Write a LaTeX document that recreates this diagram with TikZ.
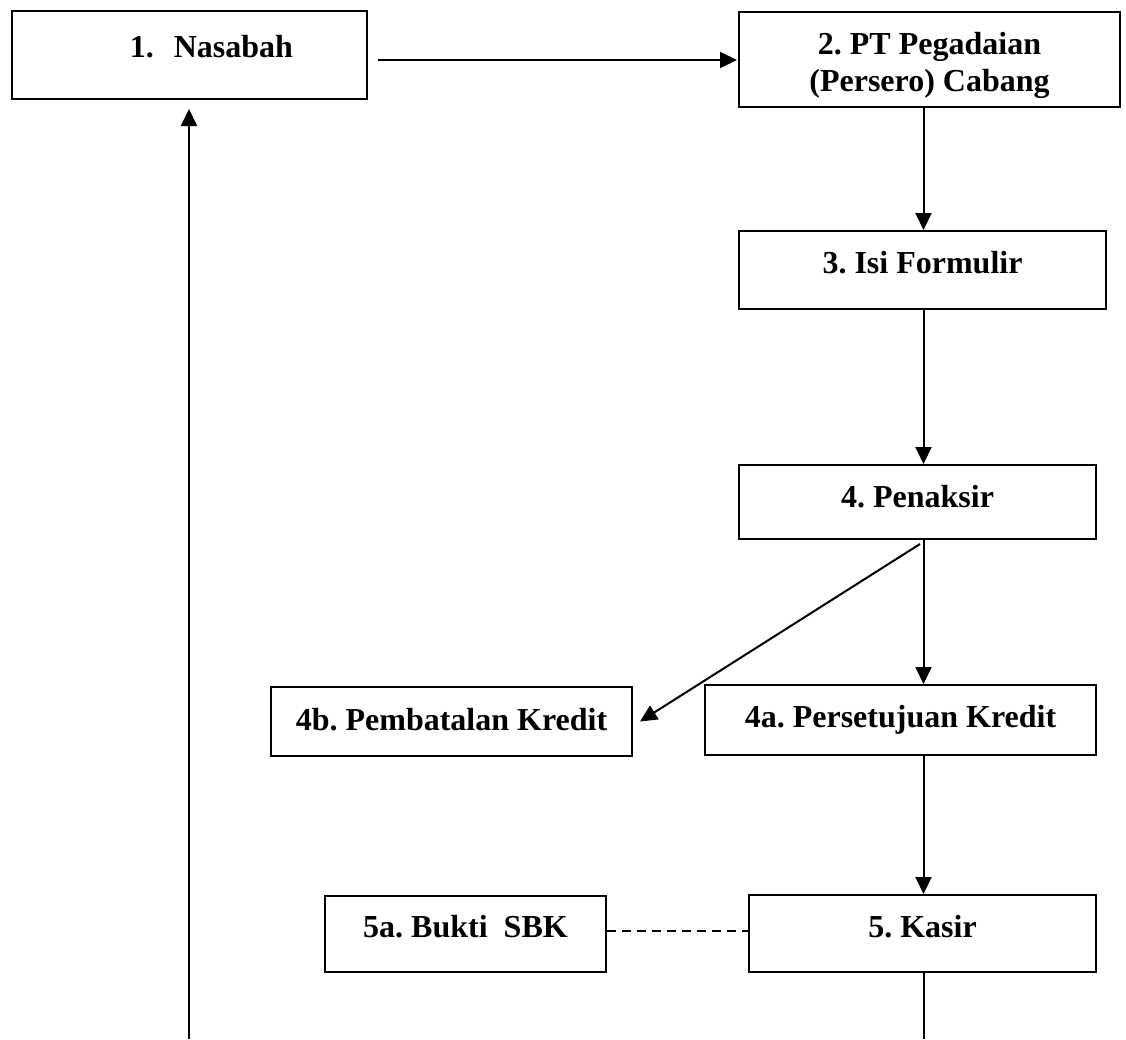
\documentclass[tikz,border=0pt]{standalone}
\usepackage{fontspec}
\setmainfont{Liberation Serif}
\usetikzlibrary{arrows.meta,calc}
\frenchspacing
\begin{document}
\begin{tikzpicture}[x=1pt,y=-1pt,
  boxbase/.style={draw,line width=2pt,rectangle,inner sep=0pt,
    font=\fontsize{32}{37}\selectfont\bfseries},
  box/.style={boxbase,text height=21pt},
  conn/.style={line width=2pt},
  arr/.style={conn,-{Triangle[length=17pt,width=16pt]}}]
\useasboundingbox (0,0) rectangle (1126,1039);
\fill[white] (0,0) rectangle (1126,1039);
\node[box,minimum width=355pt,minimum height=88pt,text depth=17pt] (b1) at (189.5,55) {\hspace*{44pt}1.\hspace{20pt}Nasabah};
\node[boxbase,minimum width=381pt,minimum height=95pt,align=center] (b2) at (929.5,59.5) {\rule{0pt}{34pt}2. PT Pegadaian\\(Persero) Cabang};
\node[box,minimum width=367pt,minimum height=78pt,text depth=15pt] (b3) at (922.5,270) {3. Isi Formulir};
\node[box,minimum width=357pt,minimum height=74pt,text depth=11pt] (b4) at (917.5,502) {4. Penaksir};
\node[box,minimum width=361pt,minimum height=69pt,text depth=4pt] (b4b) at (451.5,721.5) {4b. Pembatalan Kredit};
\node[box,minimum width=391pt,minimum height=70pt,text depth=7pt] (b4a) at (900.5,720) {4a. Persetujuan Kredit};
\node[box,minimum width=281pt,minimum height=76pt,text depth=15pt] (b5a) at (465.5,934) {5a. Bukti\ \ SBK};
\node[box,minimum width=347pt,minimum height=77pt,text depth=14pt] (b5) at (922.5,933.5) {5. Kasir};
\coordinate (col) at (923.5,0);
\coordinate (bot1) at (189,1039);
\coordinate (bot2) at (923.5,1039);
\draw[arr] ($(b1.east)+(10,5)$) -- ($(b2.west)+(-1,0.5)$);
\draw[arr] (b2.south -| col) -- (b3.north -| col);
\draw[arr] (b3.south -| col) -- (b4.north -| col);
\draw[arr] (b4.south -| col) -- (b4a.north -| col);
\draw[arr] ($(b4.south)+(2.5,4)$) -- ($(b4b.east)+(7,0)$);
\draw[arr] (b4a.south -| col) -- (b5.north -| col);
\draw[conn,dash pattern=on 9pt off 6pt,line width=1.6pt] ($(b5a.east)+(0,-3)$) -- ($(b5.west)+(0,-2.5)$);
\draw[conn] (b5.south -| col) -- (bot2);
\draw[arr] (bot1) -- ($(b1.south)+(-0.5,9)$);
\end{tikzpicture}
\end{document}
